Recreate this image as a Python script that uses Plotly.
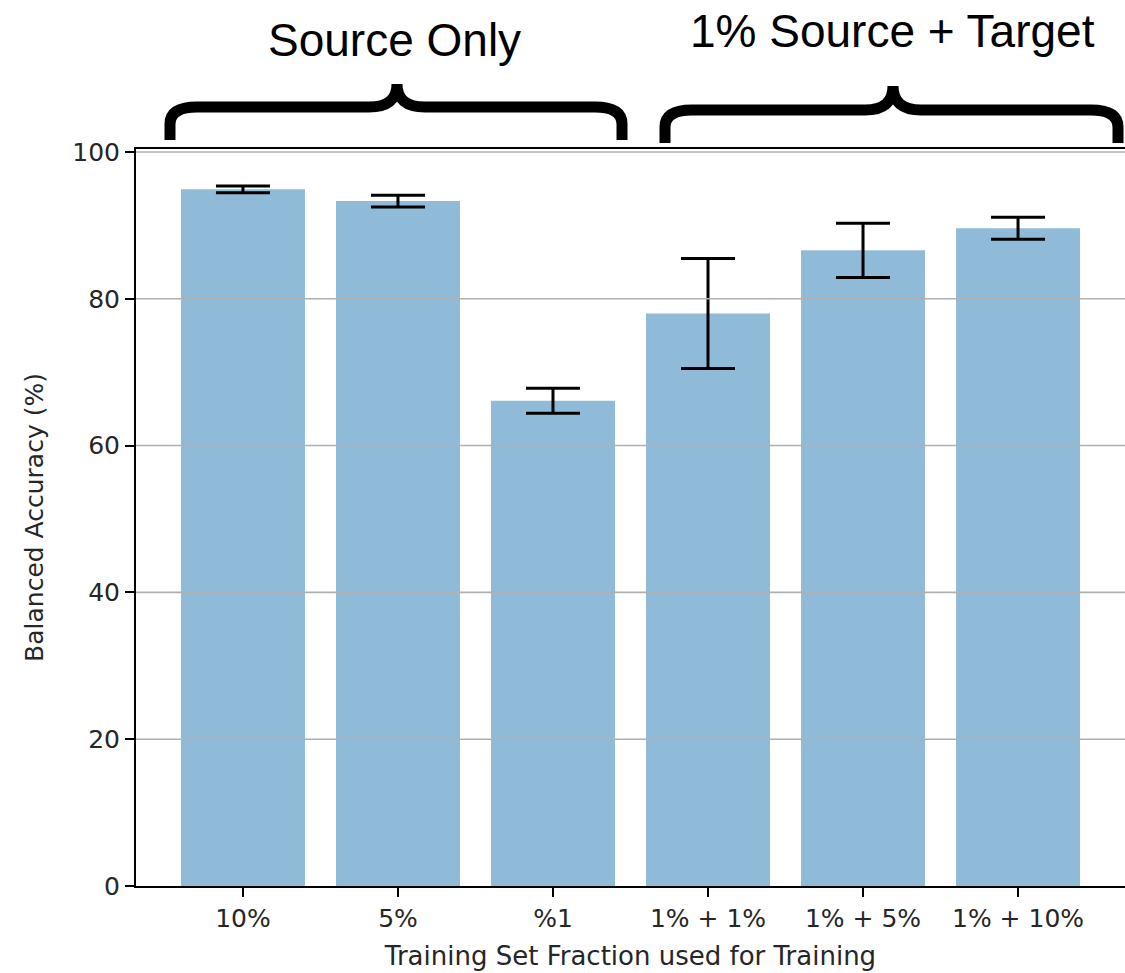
import plotly.graph_objects as go

# ---- data ----
categories = ["10%", "5%", "%1", "1% + 1%", "1% + 5%", "1% + 10%"]
accuracy = [94.9, 93.3, 66.1, 78.0, 86.6, 89.6]
errors = [0.45, 0.8, 1.7, 7.5, 3.7, 1.5]
y_ticks = [0, 20, 40, 60, 80, 100]
group_labels = ["Source Only", "1% Source + Target"]

W, H = 1125, 973
L, R, T, B = 136, 0, 149, 87
PW, PH = W - L - R, H - T - B


def px(x):
    return (x - L) / PW


def py(y):
    return (H - B - y) / PH


fig = go.Figure()
fig.add_trace(go.Bar(
    x=categories, y=accuracy, width=0.8,
    marker=dict(color="rgba(31,119,180,0.5)", line=dict(width=0)),
    error_y=dict(type="data", array=errors, visible=True,
                 color="black", thickness=3, width=27),
))

shapes = []
# horizontal grid lines drawn above bars (as in the reference)
for v in y_ticks[1:]:
    shapes.append(dict(type="line", xref="paper", yref="y", x0=0, x1=1, y0=v, y1=v,
                       line=dict(color="#b0b0b0", width=1.6), layer="above"))


def brace(x0, x1, xm, ybase, yh, ypeak, r=27, rv=17, r2=28):
    d = f"M {px(x0)},{py(ybase)} L {px(x0)},{py(yh + rv)} "
    d += f"Q {px(x0)},{py(yh)} {px(x0 + r)},{py(yh)} "
    d += f"L {px(xm - r2)},{py(yh)} "
    d += f"Q {px(xm)},{py(yh)} {px(xm)},{py(ypeak)} "
    d += f"Q {px(xm)},{py(yh)} {px(xm + r2)},{py(yh)} "
    d += f"L {px(x1 - r)},{py(yh)} "
    d += f"Q {px(x1)},{py(yh)} {px(x1)},{py(yh + rv)} "
    d += f"L {px(x1)},{py(ybase)}"
    return dict(type="path", xref="paper", yref="paper", path=d,
                line=dict(color="black", width=11), layer="above")


shapes.append(brace(170, 622, 397, 140, 107, 84))
shapes.append(brace(665, 1118, 893, 143, 110, 86))

annotations = [
    dict(text=group_labels[0], x=px(394), y=py(40), xref="paper", yref="paper",
         showarrow=False, xanchor="center", yanchor="middle",
         font=dict(family="Liberation Sans, Arial", size=46, color="black")),
    dict(text=group_labels[1], x=px(892), y=py(31), xref="paper", yref="paper",
         showarrow=False, xanchor="center", yanchor="middle",
         font=dict(family="Liberation Sans, Arial", size=46, color="black")),
]

tick_font = dict(family="DejaVu Sans", size=25, color="#262626")
fig.update_layout(
    width=W, height=H,
    margin=dict(l=L, r=R, t=T, b=B, pad=0),
    paper_bgcolor="white", plot_bgcolor="white",
    showlegend=False,
    shapes=shapes, annotations=annotations,
    xaxis=dict(
        range=[-0.69, 5.69], showgrid=False, zeroline=False,
        showline=True, linecolor="black", linewidth=2, mirror=True,
        ticks="outside", ticklen=9, tickwidth=2, tickcolor="black",
        tickfont=tick_font,
        title=dict(text="Training Set Fraction used for Training",
                   font=dict(family="DejaVu Sans", size=26, color="#262626"), standoff=15),
    ),
    yaxis=dict(
        range=[0, 100.4], tickvals=y_ticks, showgrid=False, zeroline=False,
        showline=True, linecolor="black", linewidth=2,
        ticks="outside", ticklen=9, tickwidth=2, tickcolor="black",
        tickfont=tick_font,
        title=dict(text="Balanced Accuracy (%)",
                   font=dict(family="DejaVu Sans", size=25, color="#262626"), standoff=22),
    ),
)

fig.write_html("out.html", config={"displayModeBar": False},
               post_script="document.body.style.margin='0px';")
